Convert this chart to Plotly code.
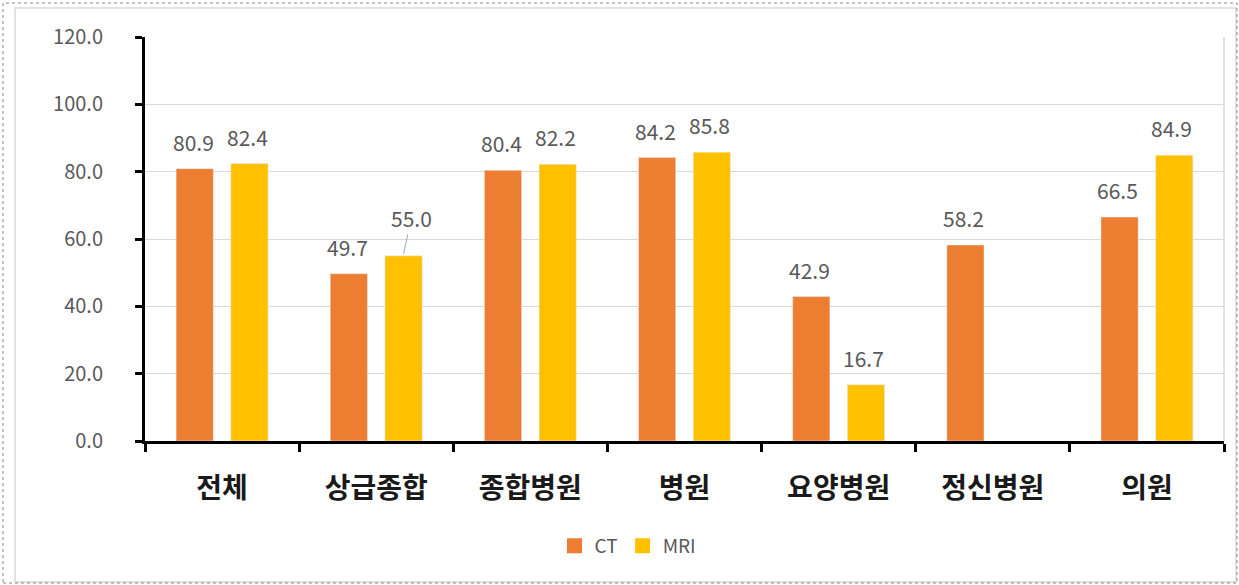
import plotly.graph_objects as go

categories = ["전체", "상급종합", "종합병원", "병원", "요양병원", "정신병원", "의원"]
ct_values = [80.9, 49.7, 80.4, 84.2, 42.9, 58.2, 66.5]
mri_values = [82.4, 55.0, 82.2, 85.8, 16.7, None, 84.9]
y_ticks = [0, 20, 40, 60, 80, 100, 120]
y_tick_labels = ["0.0", "20.0", "40.0", "60.0", "80.0", "100.0", "120.0"]

CT_COLOR = "#ED7D31"
MRI_COLOR = "#FFC000"
FONT = "Noto Sans CJK KR"
LABEL_COLOR = "#595959"

W, H = 1239, 585
ML, MR, MT, MB = 145, 15, 37, 144
PW, PH = W - ML - MR, H - MT - MB

fig = go.Figure()
fig.add_trace(go.Bar(name="CT", x=categories, y=ct_values, marker_color=CT_COLOR, showlegend=False))
fig.add_trace(go.Bar(name="MRI", x=categories, y=mri_values, marker_color=MRI_COLOR, showlegend=False))
# legend entries with larger square swatches
for name, color in (("CT", CT_COLOR), ("MRI", MRI_COLOR)):
    fig.add_trace(go.Scatter(name=name, x=[None], y=[None], mode="markers",
                             marker=dict(symbol="square", size=15, color=color),
                             showlegend=True, hoverinfo="skip"))

annotations = []
OFF = 27
lab_font = dict(family=FONT, size=21, color=LABEL_COLOR)
for cat, v in zip(categories, ct_values):
    if v is None:
        continue
    annotations.append(dict(x=cat, y=v, text=f"{v:.1f}", showarrow=False, xshift=-OFF - 2,
                            yshift=27, yanchor="middle", font=lab_font))
for cat, v in zip(categories, mri_values):
    if v is None:
        continue
    if cat == "상급종합":
        annotations.append(dict(x=cat, y=v, text=f"{v:.1f}", showarrow=True, xshift=OFF,
                                ax=8, ay=-38, arrowhead=0, arrowwidth=1, arrowcolor="#8EA9C8",
                                standoff=2, font=lab_font))
    else:
        annotations.append(dict(x=cat, y=v, text=f"{v:.1f}", showarrow=False, xshift=OFF - 2,
                                yshift=27, yanchor="middle", font=lab_font))


def px_x(p):
    return (p - ML) / PW


def px_y(p):
    return (H - MB - p) / PH


shapes = [
    # right border of plot area
    dict(type="line", xref="x domain", yref="y domain", x0=1, x1=1, y0=0, y1=1,
         line=dict(color="#D9D9D9", width=1.5)),
    # chart area border
    dict(type="rect", xref="paper", yref="paper", x0=px_x(15), x1=px_x(1236),
         y0=px_y(582), y1=px_y(8), line=dict(color="#D9D9D9", width=1.5), layer="below"),
    # outer dotted frame
    dict(type="rect", xref="paper", yref="paper", x0=px_x(3), x1=px_x(1237),
         y0=px_y(583), y1=px_y(3), line=dict(color="#888888", width=1, dash="dot"), layer="below"),
]

fig.update_layout(
    width=W, height=H,
    margin=dict(l=ML, r=MR, t=MT, b=MB, autoexpand=False),
    paper_bgcolor="white", plot_bgcolor="white",
    barmode="group", bargap=0.29, bargroupgap=0.32,
    font=dict(family=FONT, color=LABEL_COLOR),
    showlegend=True,
    legend=dict(orientation="h", x=px_x(628), xanchor="center", y=px_y(546), yanchor="middle",
                font=dict(family=FONT, size=19, color=LABEL_COLOR), itemwidth=30,
                traceorder="normal"),
    annotations=annotations,
    shapes=shapes,
)
fig.update_xaxes(
    showline=True, linecolor="black", linewidth=3,
    ticks="outside", tickson="boundaries", ticklen=8, tickwidth=3, tickcolor="black",
    tickfont=dict(family=FONT, size=28, color="#1a1a1a", weight="bold"),
    ticklabelstandoff=20, showgrid=False,
)
fig.update_yaxes(
    range=[0, 120], tickvals=y_ticks, ticktext=y_tick_labels,
    showline=True, linecolor="black", linewidth=3,
    ticks="outside", ticklen=7, tickwidth=3, tickcolor="black",
    tickfont=dict(family=FONT, size=20, color=LABEL_COLOR),
    ticklabelstandoff=28,
    showgrid=True, gridcolor="#D9D9D9", gridwidth=1, zeroline=False,
)

fig.write_html("out.html", config={"displayModeBar": False},
               post_script="document.body.style.margin='0';document.body.style.overflow='hidden';")
